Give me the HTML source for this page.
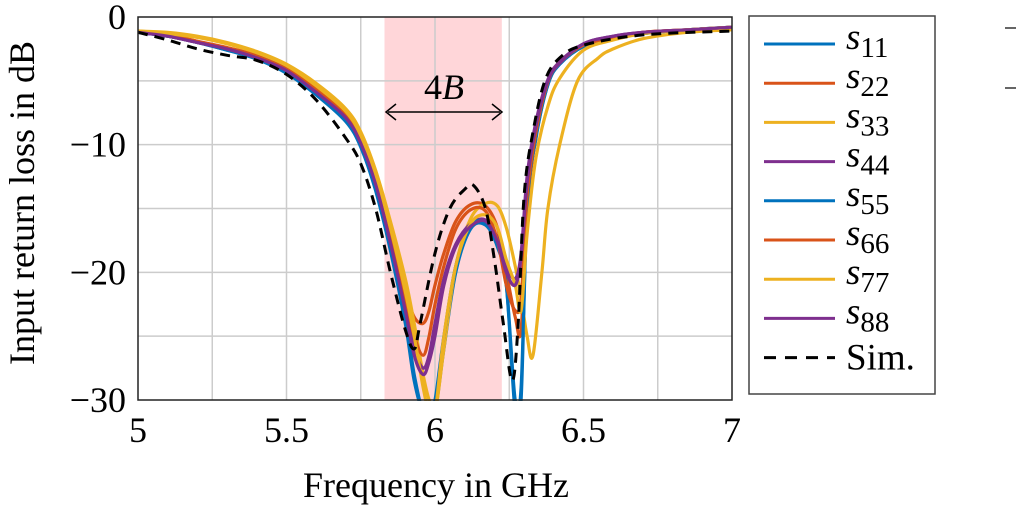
<!DOCTYPE html>
<html><head><meta charset="utf-8"><style>
body{margin:0;background:#fff;}
svg{display:block;font-family:"Liberation Serif",serif;}
</style></head><body>
<svg id="chart" width="1023" height="506" viewBox="0 0 1023 506">
<defs><clipPath id="plotclip"><rect x="138" y="16" width="594" height="385"/></clipPath></defs>
<g id="grid"></g>
<rect id="band" fill="#ffd6d9"/>
<g id="gridfront"></g>
<g id="series" clip-path="url(#plotclip)"></g>
<rect x="138" y="17" width="594" height="383" fill="none" stroke="#222" stroke-width="1.5"/>
<g id="ticks"></g>
<g>
<line x1="388" y1="112" x2="500" y2="112" stroke="#000" stroke-width="1.5"/>
<path d="M396,104 L386,112 L396,120 M492,104 L502,112 L492,120" fill="none" stroke="#000" stroke-width="1.5"/>
<text x="444" y="99" font-size="36" text-anchor="middle">4<tspan font-style="italic">B</tspan></text>
</g>
<text x="436" y="497" font-size="36" text-anchor="middle">Frequency in GHz</text>
<text transform="translate(34,203) rotate(-90)" font-size="36" text-anchor="middle">Input return loss in dB</text>
<g id="legend">
<rect x="749" y="16" width="186" height="378" fill="#fff" stroke="#444" stroke-width="1.5"/>
</g>
<line x1="1005" y1="28" x2="1016" y2="28" stroke="#000" stroke-width="1.2"/>
<line x1="1005" y1="88" x2="1016" y2="88" stroke="#000" stroke-width="1.2"/>
</svg>
<script>
const xTicks=[5,5.5,6,6.5,7];
const xTickLabels=["5","5.5","6","6.5","7"];
const yTicks=[0,-10,-20,-30];
const yTickLabels=["0","\u221210","\u221220","\u221230"];
const bandRange=[5.83,6.225];
const seriesNames=["s11","s22","s33","s44","s55","s66","s77","s88","sim"];
const seriesColors=["#0072bd","#d95319","#edb120","#7e2f8e","#0072bd","#d95319","#edb120","#7e2f8e","#000"];
const legendSubs=["11","22","33","44","55","66","77","88"];
const freqs=[5,5.1,5.2,5.3,5.4,5.5,5.6,5.7,5.75,5.8,5.85,5.9,5.93,5.96,5.98,6.0,6.03,6.07,6.12,6.17,6.21,6.24,6.27,6.29,6.31,6.34,6.38,6.42,6.5,6.6,6.7,6.85,7];
const s11=[-1.2,-1.5,-2.0,-2.6,-3.2,-4.3,-6.0,-8.0,-10,-13.3,-18,-23.5,-28,-31,-31,-31,-26,-20,-16.6,-16.3,-18,-21,-31,-30,-15,-9.5,-5.3,-3.7,-2.3,-1.7,-1.3,-1.0,-0.8];
const s22=[-1.2,-1.4,-1.9,-2.4,-3.0,-4.0,-5.6,-7.6,-9.5,-12.7,-17,-21.5,-23.5,-24,-23,-21,-18.5,-16,-14.7,-14.8,-16.5,-20,-23.5,-24.5,-15,-9.3,-5.2,-3.6,-2.2,-1.6,-1.2,-1.0,-0.8];
const freqs33=[5,5.1,5.2,5.3,5.4,5.5,5.6,5.7,5.75,5.8,5.85,5.9,5.93,5.96,5.98,6.0,6.03,6.07,6.12,6.17,6.21,6.24,6.27,6.29,6.31,6.33,6.36,6.38,6.42,6.48,6.55,6.6,6.7,6.85,7];
const s33=[-1.1,-1.2,-1.5,-2.0,-2.7,-3.7,-5.2,-7.2,-9.0,-12,-16,-20.5,-24,-28,-30,-31,-26,-19.5,-15.8,-14.6,-14.8,-16.5,-19.5,-22,-25,-26.5,-20,-15,-10,-5,-3.2,-2.5,-1.7,-1.2,-1.0];
const s44=[-1.2,-1.5,-2.0,-2.5,-3.1,-4.1,-5.8,-7.8,-9.8,-13,-17.5,-22.5,-26,-27.5,-26.5,-24,-20.5,-17.8,-16.2,-15.9,-17.3,-19.5,-20.5,-18.5,-12.5,-8.2,-4.9,-3.5,-2.1,-1.5,-1.2,-1.0,-0.8];
const s55=[-1.2,-1.5,-2.0,-2.6,-3.3,-4.4,-6.1,-8.2,-10.2,-13.6,-18.3,-24,-28.5,-31,-31,-30,-25,-19.5,-16.4,-16.1,-17.8,-21,-30,-29,-15,-9.4,-5.3,-3.7,-2.3,-1.7,-1.3,-1.0,-0.8];
const s66=[-1.2,-1.4,-1.9,-2.5,-3.1,-4.1,-5.7,-7.7,-9.6,-12.9,-17.3,-22,-25,-26.5,-25,-22.5,-19.5,-16.6,-15.1,-15.2,-17.5,-21,-23,-22,-14,-9,-5.1,-3.6,-2.2,-1.6,-1.2,-1.0,-0.8];
const s77=[-1.1,-1.3,-1.6,-2.1,-2.8,-3.8,-5.4,-7.4,-9.3,-12.4,-16.5,-21.5,-25,-29,-31,-31,-25,-19.5,-16.2,-15.5,-16.5,-19,-21,-23,-17,-11,-7,-4.8,-2.6,-1.8,-1.3,-1.0,-0.8];
const s88=[-1.2,-1.5,-2.0,-2.5,-3.2,-4.2,-5.9,-7.9,-9.9,-13.1,-17.7,-23,-26.5,-28,-27,-25,-21,-18,-16.4,-16,-17.6,-20,-21,-18.8,-13,-8.5,-5.0,-3.6,-2.1,-1.5,-1.2,-1.0,-0.8];
const simFreqs=[5,5.1,5.2,5.3,5.4,5.5,5.6,5.7,5.75,5.8,5.85,5.9,5.93,5.95,6.0,6.05,6.1,6.13,6.17,6.2,6.23,6.26,6.28,6.3,6.33,6.37,6.42,6.5,6.7,7];
const sim=[-1.2,-1.8,-2.5,-3.0,-3.4,-4.5,-6.5,-9.5,-11.5,-15,-20,-24.5,-26,-24,-18.5,-15,-13.5,-13.2,-15,-19,-24,-28.5,-24,-14,-9,-5,-3.2,-2.2,-1.4,-1.1];
const allSeries=[s11,s22,s33,s44,s55,s66,s77,s88];
const allFreqs=[freqs,freqs,freqs33,freqs,freqs,freqs,freqs,freqs];

const X0=138,X1=732,Y0=17,Y1=400;
function xs(f){return X0+(f-5)/2*(X1-X0);}
function ys(v){return Y0+(0-v)/30*(Y1-Y0);}
const NS="http://www.w3.org/2000/svg";
function mk(t,a,p){const e=document.createElementNS(NS,t);for(const k in a)e.setAttribute(k,a[k]);p.appendChild(e);return e;}

const band=document.getElementById('band');
band.setAttribute('x',xs(bandRange[0]));band.setAttribute('y',Y0);
band.setAttribute('width',xs(bandRange[1])-xs(bandRange[0]));band.setAttribute('height',Y1-Y0);

const grid=document.getElementById('grid');
for(let f=5.25;f<7;f+=0.25){const l=mk('line',{x1:xs(f),x2:xs(f),y1:Y0,y2:Y1,stroke:'#ccc','stroke-width':1.5},grid);

}
for(let v=-5;v>-30;v-=5){const l=mk('line',{x1:X0,x2:X1,y1:ys(v),y2:ys(v),stroke:'#ccc','stroke-width':1.5},document.getElementById('gridfront'));

}
for(let f=5.25;f<7;f+=0.25){if(f>bandRange[0]&&f<bandRange[1]){const l=mk('line',{x1:xs(f),x2:xs(f),y1:Y0,y2:Y1,stroke:'#ccc','stroke-width':1.5},document.getElementById('gridfront'));

}}

const ticks=document.getElementById('ticks');
xTicks.forEach((f,i)=>{const t=mk('text',{x:xs(f),y:442,'font-size':36,'text-anchor':'middle'},ticks);t.textContent=xTickLabels[i];

});
yTicks.forEach((v,i)=>{const t=mk('text',{x:126,y:ys(v)+12,'font-size':36,'text-anchor':'end'},ticks);t.textContent=yTickLabels[i];

});

const sg=document.getElementById('series');
function path(fx,vals){
  const p=vals.map((v,i)=>[xs(fx[i]),ys(v)]);
  let d='M'+p[0][0].toFixed(1)+','+p[0][1].toFixed(1);
  for(let i=0;i<p.length-1;i++){
    const a=p[Math.max(0,i-1)],b=p[i],c=p[i+1],e=p[Math.min(p.length-1,i+2)];
    const c1=[b[0]+(c[0]-a[0])/6,b[1]+(c[1]-a[1])/6],c2=[c[0]-(e[0]-b[0])/6,c[1]-(e[1]-b[1])/6];
    d+=' C'+c1.map(n=>n.toFixed(1)).join(',')+' '+c2.map(n=>n.toFixed(1)).join(',')+' '+c[0].toFixed(1)+','+c[1].toFixed(1);
  }
  return d;}
allSeries.forEach((s,i)=>{const p=mk('path',{d:path(allFreqs[i],s),fill:'none',stroke:seriesColors[i],'stroke-width':3.2,'stroke-linejoin':'round'},sg);

});
const sp=mk('path',{d:path(simFreqs,sim),fill:'none',stroke:'#000','stroke-width':3,'stroke-dasharray':'10,7'},sg);



const lg=document.getElementById('legend');
for(let i=0;i<9;i++){const y=44+i*39.2;
const g=mk('g',{},lg);


mk('line',{x1:764,x2:835,y1:y,y2:y,stroke:seriesColors[i],'stroke-width':3,'stroke-dasharray':i==8?'12,9':'none'},g);
const t=mk('text',{x:846,y:y+(i<8?5:12),'font-size':37},g);
if(i<8){t.innerHTML='<tspan font-style="italic">s</tspan><tspan font-size="29" dy="8">'+legendSubs[i]+'</tspan>';}
else t.textContent='Sim.';}
</script>
</body></html>
